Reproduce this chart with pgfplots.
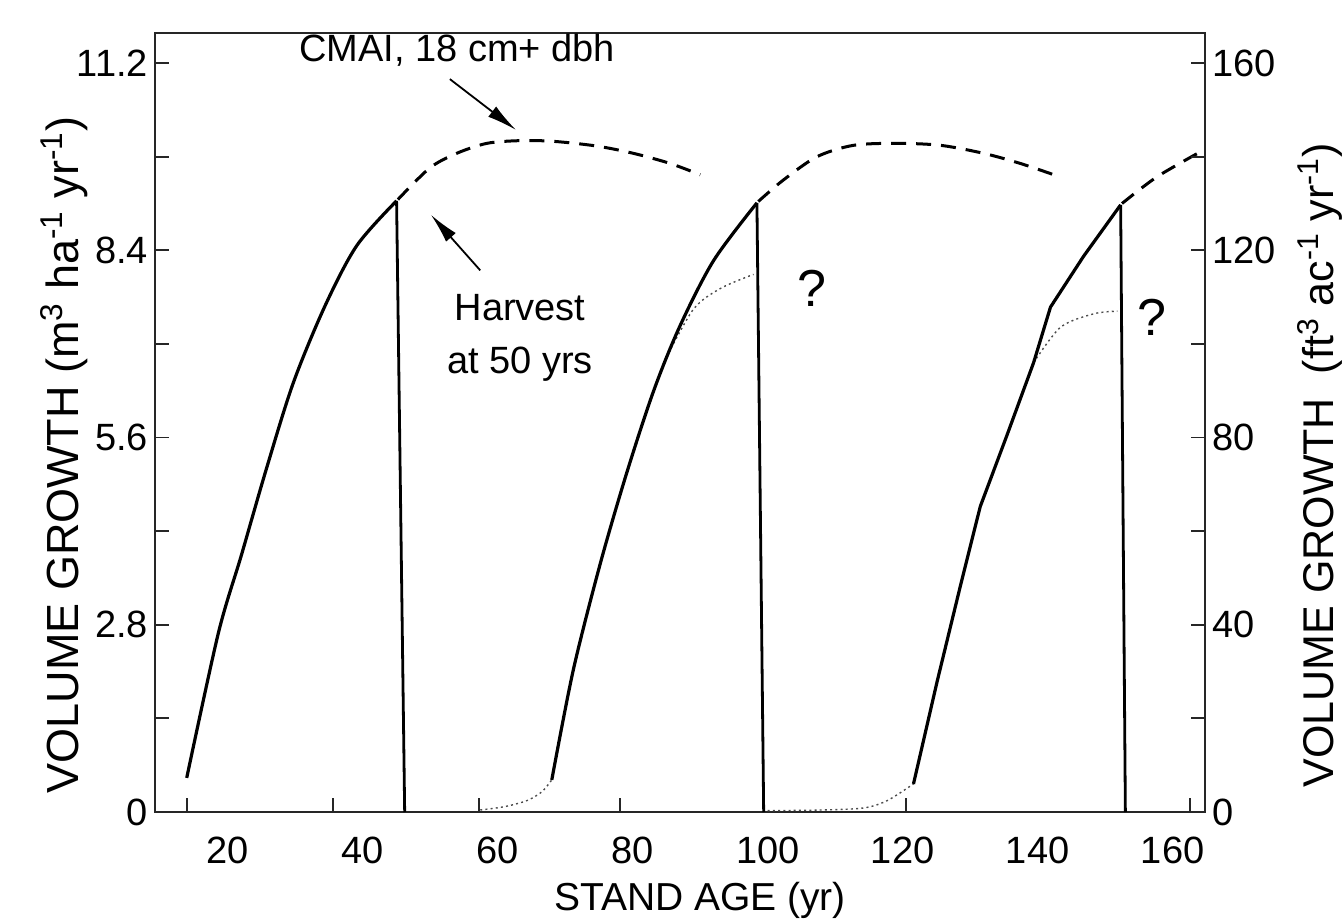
\documentclass[border=0pt]{standalone}
\usepackage{fontspec}
\setmainfont{Liberation Sans}
\usepackage{pgfplots}
\pgfplotsset{compat=1.18}
\usetikzlibrary{arrows.meta}

\begin{document}
\begin{tikzpicture}
\pgfplotsset{
  every axis/.append style={font=\fontsize{19}{23}\selectfont},
}
\begin{axis}[
  at={(0,0)}, anchor=south west,
  scale only axis, width=525pt, height=389.5pt,
  xmin=9.2, xmax=164.8, ymin=0, ymax=11.65,
  axis line style={line width=1pt, black!85},
  xtick pos=bottom, ytick pos=left,
  tick align=inside,
  major tick length=7pt, minor tick length=7pt,
  tick style={line width=0.9pt, black!85},
  xtick={13.9,35.6,57.2,78.1,120.5,162.6},
  xticklabels={},
  extra x ticks={20,40,60,80,100,120,140,160},
  extra x tick labels={20,40,60,80,100,120,140,160},
  extra x tick style={major tick length=0pt},
  xticklabel style={anchor=center, yshift=-19pt},
  ytick={0,2.8,5.6,8.4,11.2},
  yticklabels={0,2.8,5.6,8.4,11.2},
  minor ytick={1.4,4.2,7,9.8},
  xlabel={STAND AGE (yr)},
  xlabel style={at={(axis description cs:0.519,-0.113)}, anchor=center, font=\fontsize{19.5}{23}\selectfont},
  ylabel={VOLUME GROWTH (m\textsuperscript{3} ha\textsuperscript{-1} yr\textsuperscript{-1})},
  ylabel style={at={(axis description cs:-0.0865,0.458)}, anchor=center, font=\fontsize{22.5}{26}\selectfont},
]
% dotted lead-in and alternative growth paths
\addplot[black!70, line width=0.7pt, dash pattern=on 1pt off 1.6pt, smooth] coordinates {
  (57.4,0.03) (61.0,0.08) (64.3,0.17) (66.5,0.30) (68.0,0.48)};
\addplot[black!70, line width=0.7pt, dash pattern=on 1pt off 1.6pt, smooth] coordinates {
  (85.0,6.80) (89.0,7.52) (93.0,7.83) (97.9,8.04)};
\addplot[black!70, line width=0.7pt, dash pattern=on 1pt off 1.6pt, smooth] coordinates {
  (100.0,0.02) (108.0,0.03) (114.2,0.06) (117.7,0.17) (121.6,0.42)};
\addplot[black!70, line width=0.7pt, dash pattern=on 1pt off 1.6pt, smooth] coordinates {
  (139.4,6.72) (143.4,7.25) (148.3,7.45) (151.8,7.49)};
% solid growth curves
\addplot[black, line width=1.6pt, smooth, tension=0.5] coordinates {
  (13.9,0.51) (18.6,2.68) (22.0,3.84) (25.7,5.13) (29.7,6.42) (34.4,7.57) (39.1,8.47) (45.0,9.14)};
\addplot[black, line width=1.6pt, smooth, tension=0.5] coordinates {
  (68.0,0.48) (71.2,2.13) (75.2,3.72) (79.1,5.07) (83.1,6.30) (87.0,7.27) (92.0,8.25) (98.4,9.11)};
\addplot[black, line width=1.6pt] coordinates {
  (121.6,0.42) (125.1,1.95) (128.5,3.36) (131.5,4.57) (135.4,5.62) (139.4,6.72) (141.9,7.55) (146.8,8.31) (152.3,9.08)};
% harvest lines
\addplot[black, line width=1.4pt] coordinates {(45.0,9.14) (46.2,0)};
\addplot[black, line width=1.4pt] coordinates {(98.4,9.11) (99.4,0)};
\addplot[black, line width=1.4pt] coordinates {(152.3,9.08) (153.0,0)};
% CMAI dashed curves
\addplot[black, line width=1.5pt, dash pattern=on 7.5pt off 5pt, smooth] coordinates {
  (45.2,9.16) (49.9,9.63) (53.9,9.85) (58.4,10.00) (63.3,10.04) (68.2,10.03) (74.6,9.96) (80.1,9.85) (85.5,9.70) (90.0,9.53)};
\addplot[black, line width=1.5pt, dash pattern=on 7.5pt off 5pt, smooth] coordinates {
  (98.6,9.13) (102.3,9.45) (107.3,9.80) (112.7,9.97) (119.1,10.00) (125.6,9.97) (132.0,9.85) (137.4,9.70) (142.4,9.53)};
\addplot[black, line width=1.5pt, dash pattern=on 7.5pt off 5pt, smooth] coordinates {
  (152.5,9.10) (157.7,9.50) (164.6,9.90)};
% annotations
\node[anchor=center] at (axis cs:53.95,11.4) {CMAI, 18 cm+ dbh};
\draw[line width=0.9pt, -{Latex[length=15pt,width=6.5pt]}] (axis cs:52.9,10.96) -- (axis cs:62.7,10.2);
\node[anchor=center] at (axis cs:63.3,7.55) {Harvest};
\node[anchor=center] at (axis cs:63.3,6.70) {at 50 yrs};
\draw[line width=0.9pt, -{Latex[length=15pt,width=6.5pt]}] (axis cs:57.4,8.1) -- (axis cs:50.1,8.93);
\node[anchor=center, font=\fontsize{26}{30}\selectfont] at (axis cs:106.6,7.83) {?};
\node[anchor=center, font=\fontsize{26}{30}\selectfont] at (axis cs:157.0,7.40) {?};
\end{axis}
\begin{axis}[
  at={(0,0)}, anchor=south west,
  scale only axis, width=525pt, height=389.5pt,
  xmin=9.2, xmax=164.8, ymin=0, ymax=166.43,
  axis x line=none, axis y line*=right,
  axis line style={line width=1pt, black!85},
  tick align=inside,
  major tick length=7pt, minor tick length=7pt,
  tick style={line width=0.9pt, black!85},
  ytick={0,40,80,120,160},
  yticklabels={0,40,80,120,160},
  minor ytick={20,60,100,140},
  ylabel={VOLUME GROWTH~ (ft\textsuperscript{3} ac\textsuperscript{-1} yr\textsuperscript{-1})},
  ylabel style={at={(axis description cs:1.1095,0.445)}, anchor=center, font=\fontsize{21.5}{25}\selectfont},
]
\end{axis}
\pgfresetboundingbox
\path (-77.5pt,-54pt) rectangle (594pt,406pt);
\end{tikzpicture}
\end{document}
